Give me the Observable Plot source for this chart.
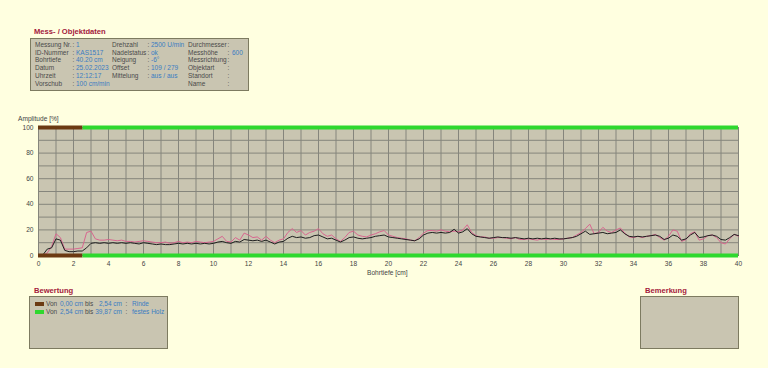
<!DOCTYPE html>
<html><head><meta charset="utf-8">
<script src="https://cdn.jsdelivr.net/npm/d3@7"></script>
<script src="https://cdn.jsdelivr.net/npm/@observablehq/plot@0.6"></script>
<style>
html,body{margin:0;padding:0;background:#ffffe0;}
#wrap{position:relative;width:768px;height:368px;font-family:"Liberation Sans",Arial,sans-serif;font-size:6.5px;color:#4a4a4a;}
#chart{position:absolute;left:0;top:0;}
.abs{position:absolute;white-space:nowrap;line-height:1;}
.ttl{color:#a3203c;font-weight:bold;font-size:7.6px;}
.box{position:absolute;background:#c9c5b1;border:1px solid #7d7b60;box-sizing:border-box;}
.v{color:#3a7cc2;}
.ax{color:#444;font-size:6.6px;}
</style></head><body>
<div id="wrap"><div id="chart"></div></div>
<script>
// ---- data ----
const depth = [0,0.25,0.5,0.75,1,1.25,1.5,1.75,2,2.25,2.5,2.75,3,3.25,3.5,3.75,4,4.25,4.5,4.75,5,5.25,5.5,5.75,6,6.25,6.5,6.75,7,7.25,7.5,7.75,8,8.25,8.5,8.75,9,9.25,9.5,9.75,10,10.25,10.5,10.75,11,11.25,11.5,11.75,12,12.25,12.5,12.75,13,13.25,13.5,13.75,14,14.25,14.5,14.75,15,15.25,15.5,15.75,16,16.25,16.5,16.75,17,17.25,17.5,17.75,18,18.25,18.5,18.75,19,19.25,19.5,19.75,20,20.25,20.5,20.75,21,21.25,21.5,21.75,22,22.25,22.5,22.75,23,23.25,23.5,23.75,24,24.25,24.5,24.75,25,25.25,25.5,25.75,26,26.25,26.5,26.75,27,27.25,27.5,27.75,28,28.25,28.5,28.75,29,29.25,29.5,29.75,30,30.25,30.5,30.75,31,31.25,31.5,31.75,32,32.25,32.5,32.75,33,33.25,33.5,33.75,34,34.25,34.5,34.75,35,35.25,35.5,35.75,36,36.25,36.5,36.75,37,37.25,37.5,37.75,38,38.25,38.5,38.75,39,39.25,39.5,39.75,40];
const blackAmp = [0,0.5,5,6,13,12,4,3,3,3.5,3.5,6,9.5,10,9.5,10,9.5,10,9.5,10,9.5,10,9.5,9,10,9.5,9,8.5,9,8.5,8.5,9,9.5,9,9.5,9,9.5,9,9.5,9,9.5,10.5,11,10,9.5,11,10.5,12.5,12,11.5,12,11,12,10.5,9,10.5,11,13.5,15,14,14.5,13.5,14,15.5,16,14.5,13,13.5,12,10.5,12,14,14.5,13.5,13,13.5,14,15,15.5,16,14.5,14,13.5,13,12.5,12,11.5,13,16,17.5,18,17.5,18,17.5,18,20.5,17.5,18.5,21,17,15,14.5,14,13.5,14,14.5,14,14,13.5,14,13.5,13,13.5,13,13.5,13,13.5,13,13.5,13,13,13.5,14,15,17,19,16.5,17,17.5,18,17,17.5,18,20,17,15,14.5,15,14.5,15,15.5,16,15,12.5,13.5,16,15,12,13,16,18,14,14.5,15.5,16,15,12.5,12,14,16.5,15.5];
const pinkAmp = [0,0.3,2,7,17,14,5,5,5,5.5,6,18,19,13,12,12,12.5,12,11.5,12,11,11,10.5,11,11.5,11,10.5,10,10,10.5,9.5,10,11,10,10.5,10,11,10.5,10,10.5,11,13,15,11,10.5,14,12,17.5,16,14,14.5,12,15,12,10,12,13,18,21,18,19.5,16,18,19,21,17,15,16,13,11,14,18,19,16,15,14.5,16,17,18.5,19.5,16,15,14,13.5,13,12,11.5,14,17.5,19.5,19.5,19,20,19,18.5,19,18.5,20,24,18,15.5,14.5,14.5,13.5,13.5,14,14,13.5,13,14,12.5,12.5,13,12.5,12,13,12.5,13,12.5,12.5,13,13.5,14,16,18,21,24.5,17,18,22,19,18,20,21.5,17.5,14.5,14,15,14,15,15.5,16.5,14,12,15,20,19,11,12.5,17,18.5,12,13,15.5,16,14,10,9,13,16.5,15];
const zoneName = ["Rinde","festes Holz"];
const zoneFrom = [0, 2.54];
const zoneTo = [2.54, 39.87];
const zoneColor = ["#6b3a12","#2ed82e"];
const bandLevels = [0, 100];
const xTicks = [0,2,4,6,8,10,12,14,16,18,20,22,24,26,28,30,32,34,36,38,40];
const yTicks = [0,20,40,60,80,100];
const xGrid = d3.range(0, 41, 1);
const yGrid = [0,10,20,30,40,50,60,70,80,90,100];

const rows = depth.map((d,i)=>({depth:d, black:blackAmp[i], pink:pinkAmp[i]}));
const bands = [];
bandLevels.forEach(l => {
  bands.push({y:l, x1:zoneFrom[0], x2:zoneTo[0], c:zoneColor[0]});
  bands.push({y:l, x1:zoneFrom[1], x2:40, c:zoneColor[1]});
});

const plot = Plot.plot({
  width:768, height:368,
  marginLeft:38, marginRight:30, marginTop:127, marginBottom:113,
  style:{background:"transparent", fontFamily:"Liberation Sans, Arial, sans-serif", fontSize:"6.6px", color:"#444"},
  x:{domain:[0,40], label:null},
  y:{domain:[0,100], label:null},
  marks:[
    Plot.frame({fill:"#c9c5b1", stroke:"#77776a"}),
    Plot.gridX(xGrid, {stroke:"#85857c", strokeOpacity:1}),
    Plot.gridY(yGrid, {stroke:"#85857c", strokeOpacity:1}),
    Plot.axisX(xTicks, {tickSize:0, tickPadding:6, fill:"#444"}),
    Plot.axisY(yTicks, {tickSize:0, tickPadding:5, fill:"#444"}),
    Plot.lineY(rows, {x:"depth", y:"pink", stroke:"#d8668f", strokeWidth:1}),
    Plot.lineY(rows, {x:"depth", y:"black", stroke:"#1e1e1e", strokeWidth:1}),
    Plot.ruleY(bands, {y:"y", x1:"x1", x2:"x2", stroke:"c", strokeWidth:4})
  ]
});
document.getElementById("chart").appendChild(plot);

// ---- HTML panels ----
const wrap = document.getElementById("wrap");
function add(html, cls, x, y){ const e=document.createElement("div"); e.className="abs "+(cls||""); e.style.left=x+"px"; e.style.top=y+"px"; e.innerHTML=html; wrap.appendChild(e); return e; }
function box(x,y,w,h){ const e=document.createElement("div"); e.className="box"; e.style.left=x+"px"; e.style.top=y+"px"; e.style.width=w+"px"; e.style.height=h+"px"; wrap.appendChild(e); }

add("Mess- / Objektdaten","ttl",34,28);
box(30,38,219,53);
const col1Labels = ["Messung Nr.","ID-Nummer","Bohrtiefe","Datum","Uhrzeit","Vorschub"];
const col1Values = ["1","KAS1517","40.20 cm","25.02.2023","12:12:17","100 cm/min"];
const col2Labels = ["Drehzahl","Nadelstatus","Neigung","Offset","Mittelung",""];
const col2Values = ["2500 U/min","ok","-6°","109 / 279","aus / aus",""];
const col3Labels = ["Durchmesser","Messhöhe","Messrichtung","Objektart","Standort","Name"];
const col3Values = ["","600","","","",""];
const rowY = [42,49.7,57.4,65.1,72.8,80.5];
rowY.forEach((y,i)=>{
  add(col1Labels[i],"",35,y);
  add(":","",72.5,y); add(col1Values[i],"v",76,y);
  if(col2Labels[i]){ add(col2Labels[i],"",112,y); add(":","",147.5,y); add(col2Values[i],"v",151,y); }
  add(col3Labels[i],"",188,y);
  add(":","",227.5,y);
  if(col3Values[i]) add(col3Values[i],"v",232,y);
});

add("Amplitude [%]","ax",18,116);
add("Bohrtiefe [cm]","ax",367,270);

add("Bewertung","ttl",34,287);
box(29,296,139,53);
const zy = [301, 309];
zoneName.forEach((n,i)=>{
  const sw=document.createElement("div"); sw.className="abs"; sw.style.left="35px"; sw.style.top=(zy[i]+0.5)+"px"; sw.style.width="9px"; sw.style.height="4px"; sw.style.background=zoneColor[i]; wrap.appendChild(sw);
  add("Von","",46,zy[i]);
  add(zoneFrom[i].toFixed(2).replace(".",",")+" cm","v",60,zy[i]);
  add("bis","",85,zy[i]);
  const e=add(zoneTo[i].toFixed(2).replace(".",",")+" cm","v",0,zy[i]); e.style.left=""; e.style.right=(768-122)+"px";
  add(":","",125.5,zy[i]);
  add(n,"v",132,zy[i]);
});

add("Bemerkung","ttl",645,287);
box(640,296,99,53);
</script>
</body></html>
